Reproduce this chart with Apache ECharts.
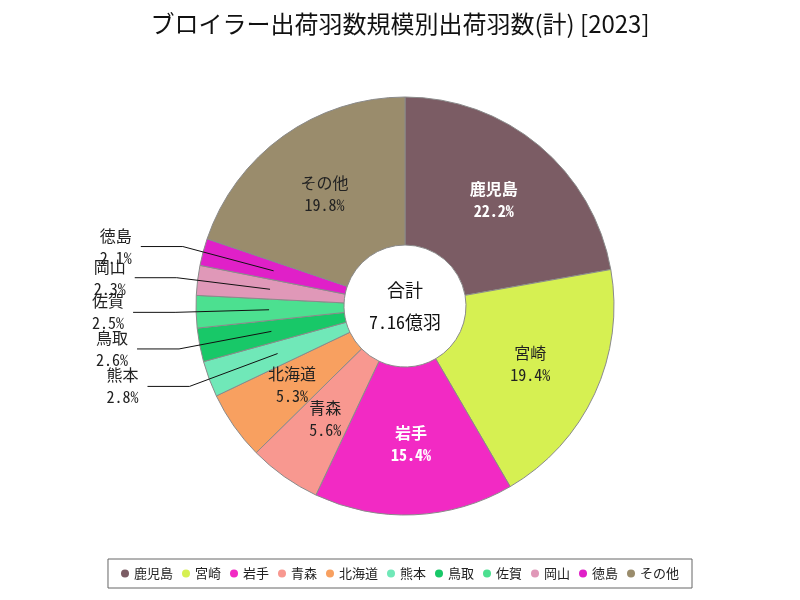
<!DOCTYPE html>
<html>
<head>
<meta charset="utf-8">
<script src="https://cdn.jsdelivr.net/npm/echarts@6/dist/echarts.min.js"></script>
<style>html,body{margin:0;padding:0;background:#fff}#c{width:800px;height:600px}</style>
</head>
<body>
<div id="c"></div>
<script>
// 出荷羽数 (万羽)
var categories = ['鹿児島','宮崎','岩手','青森','北海道','熊本','鳥取','佐賀','岡山','徳島','その他'];
var values = [15900, 13890, 11030, 4010, 3800, 2000, 1860, 1790, 1650, 1500, 14170];
var colors = ['#7b5c64','#d6f052','#f22ac4','#f89890','#f8a060','#70e8b8','#18c868','#4ce090','#e098b8','#e020c8','#9a8c6c'];
var insideLabelColors = {'鹿児島':'#ffffff','宮崎':'#222222','岩手':'#ffffff','青森':'#222222','北海道':'#222222','その他':'#222222'};
var outsideLabels = ['熊本','鳥取','佐賀','岡山','徳島'];
var titleText = 'ブロイラー出荷羽数規模別出荷羽数(計) [2023]';

var mono = "'Noto Sans Mono CJK JP', 'DejaVu Sans Mono', 'Noto Sans CJK JP', monospace";
var sans = "'Noto Sans CJK JP', sans-serif";

var total = values.reduce(function(a,b){return a+b;},0);
var totalText = '合計\n' + (total/10000).toFixed(2) + '億羽';

var mainData = categories.map(function(n,i){
  var inside = insideLabelColors[n];
  return {
    name: n, value: values[i],
    itemStyle: {color: colors[i]},
    label: inside ? {show: true, color: inside, fontWeight: inside === '#ffffff' ? 'bold' : 'normal'} : {show: false}
  };
});
var ghostData = categories.map(function(n,i){
  return {
    name: n, value: values[i],
    label: {show: outsideLabels.indexOf(n) >= 0},
    labelLine: {show: outsideLabels.indexOf(n) >= 0}
  };
});

var chart = echarts.init(document.getElementById('c'), null, {renderer: 'canvas'});
chart.setOption({
  animation: false,
  color: colors,
  textStyle: {fontFamily: mono},
  title: {
    text: titleText, left: 'center', top: 7,
    textStyle: {fontFamily: sans, fontSize: 24, fontWeight: 'normal', color: '#111'}
  },
  legend: {
    bottom: 12, left: 'center',
    icon: 'circle', itemWidth: 8, itemHeight: 8, itemGap: 9,
    padding: [8, 13],
    borderColor: '#666', borderWidth: 1,
    itemStyle: {borderWidth: 0},
    textStyle: {fontFamily: sans, fontSize: 13, color: '#222'},
    data: categories
  },
  graphic: [{
    type: 'text', x: 405, y: 306, z: 10,
    style: {text: totalText, align: 'center', verticalAlign: 'middle', fontFamily: mono, fontSize: 18, lineHeight: 32, fill: '#111'}
  }],
  series: [{
    type: 'pie', name: 'main', z: 2,
    center: [405, 306], radius: [61, 209],
    startAngle: 90, clockwise: true,
    percentPrecision: 1,
    avoidLabelOverlap: false,
    labelLayout: {hideOverlap: false},
    itemStyle: {borderColor: '#8a8a8a', borderWidth: 1},
    label: {position: 'inside', formatter: '{b}\n{d}%', fontSize: 16, lineHeight: 22, fontFamily: mono},
    labelLine: {show: false},
    emphasis: {disabled: true},
    data: mainData
  }, {
    type: 'pie', name: 'ghost', silent: true, z: 5,
    center: [405, 306], radius: [61, 136],
    startAngle: 90, clockwise: true,
    percentPrecision: 1,
    avoidLabelOverlap: false,
    labelLayout: {hideOverlap: false},
    legendHoverLink: false,
    itemStyle: {color: 'rgba(0,0,0,0)', borderWidth: 0},
    label: {position: 'outside', formatter: '{b}\n{d}%', fontSize: 16, lineHeight: 22, color: '#222', fontFamily: mono, distanceToLabelLine: 9},
    labelLine: {length: 94, length2: 42, lineStyle: {color: '#111', width: 1}},
    emphasis: {disabled: true},
    data: ghostData
  }]
});
</script>
</body>
</html>
